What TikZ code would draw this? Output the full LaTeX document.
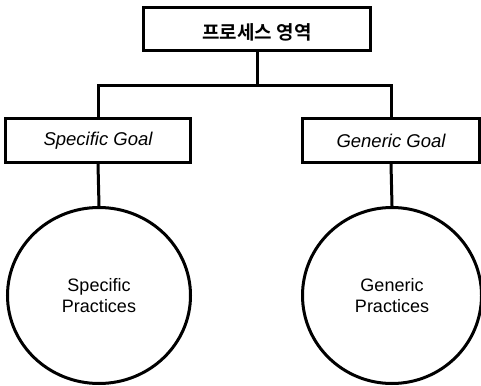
\documentclass[tikz,border=0pt]{standalone}
\usepackage{fontspec}
\setmainfont{Liberation Sans}
\newfontfamily\krfont{Noto Sans CJK KR}[BoldFont={* Bold}]
\usetikzlibrary{shapes.geometric}
\begin{document}
\begin{tikzpicture}[x=1pt,y=-1pt,
  boxstyle/.style={draw=black, line width=3pt, fill=white, rectangle, inner sep=0pt},
  circstyle/.style={draw=black, line width=3pt, ellipse, inner sep=0pt, align=center, font=\fontsize{18}{21}\selectfont},
  conn/.style={draw=black, line width=3pt}]
\useasboundingbox (0,0) rectangle (481,385);
\node[boxstyle, minimum width=227pt, minimum height=43pt] (pa) at (257,29) {};
\node at (257,32) (patext) {\krfont\bfseries\fontsize{19}{22}\selectfont 프로세스 영역};
\node[boxstyle, minimum width=185pt, minimum height=44pt, font=\itshape\fontsize{18.5}{22}\selectfont] (sg) at (98,140.5) {Specific Goal};
\node[boxstyle, minimum width=177pt, minimum height=44pt, font=\itshape\fontsize{18.5}{22}\selectfont] (gg) at (391,140.5) {Generic Goal};
\node[circstyle, minimum width=183pt, minimum height=176pt] (sp) at (99,295.5) {Specific\\Practices};
\node[circstyle, minimum width=179pt, minimum height=176pt] (gp) at (392,295.5) {Generic\\Practices};
\coordinate (j) at (257,86);
\draw[conn] (pa.south) -- (j);
\draw[conn] (sg.north) |- (j) -| (gg.north);
\draw[conn] (sg.south) -- (sp.north);
\draw[conn] (gg.south) -- (gp.north);
\end{tikzpicture}
\end{document}
